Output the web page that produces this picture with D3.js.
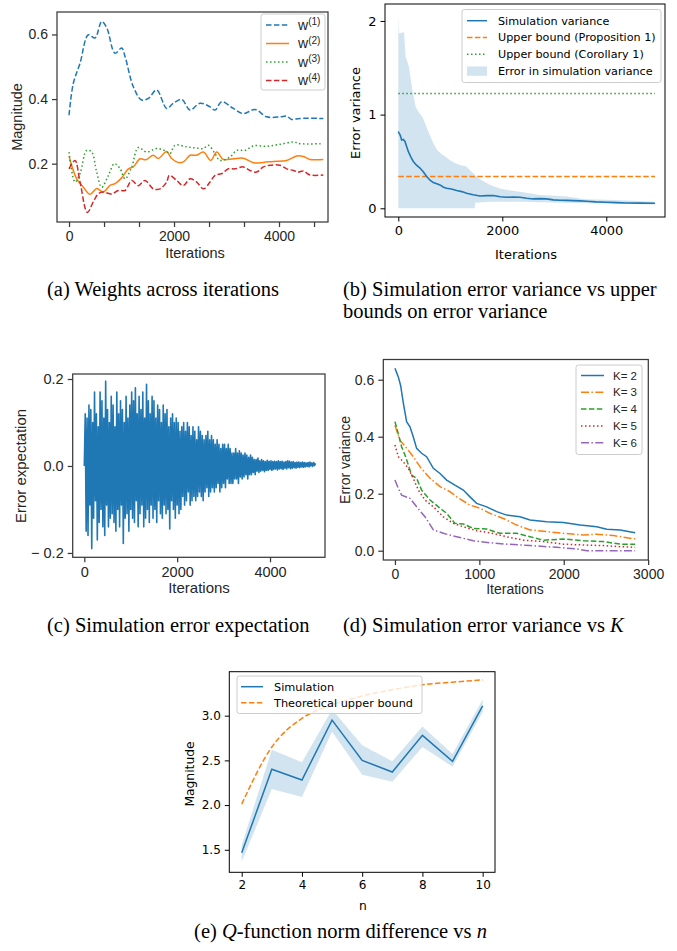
<!DOCTYPE html>
<html>
<head>
<meta charset="utf-8">
<script src="https://cdn.jsdelivr.net/npm/d3@7"></script>
<style>
body { margin: 0; background: #fff; }
svg { display: block; }
</style>
</head>
<body>
<svg id="fig" width="677" height="951"></svg>
<script>
// ---- (a) weights across iterations: [iteration, value]
const w1 = [[0,0.35],[82,0.449],[210,0.511],[368,0.599],[495,0.589],[622,0.64],[720,0.62],[876,0.542],[1003,0.558],[1067,0.532],[1225,0.438],[1384,0.397],[1511,0.402],[1670,0.428],[1860,0.371],[1987,0.387],[2146,0.399],[2305,0.366],[2495,0.387],[2686,0.376],[2781,0.366],[2908,0.392],[3130,0.371],[3321,0.355],[3543,0.368],[3765,0.345],[4019,0.345],[4146,0.347],[4241,0.337],[4400,0.34],[4844,0.34]];
const w2 = [[0,0.223],[146,0.153],[273,0.127],[400,0.105],[527,0.123],[654,0.112],[781,0.133],[876,0.138],[1003,0.156],[1130,0.184],[1225,0.19],[1352,0.215],[1460,0.212],[1606,0.226],[1701,0.216],[1860,0.238],[1955,0.216],[2114,0.203],[2200,0.208],[2305,0.226],[2430,0.226],[2559,0.236],[2699,0.21],[2813,0.236],[2940,0.213],[3130,0.215],[3320,0.217],[3511,0.203],[3700,0.204],[3892,0.207],[4146,0.21],[4337,0.224],[4464,0.222],[4590,0.213],[4844,0.213]];
const w3 = [[0,0.236],[114,0.143],[210,0.17],[336,0.241],[432,0.236],[527,0.174],[622,0.127],[749,0.163],[863,0.2],[971,0.185],[1067,0.153],[1194,0.19],[1320,0.25],[1479,0.236],[1670,0.247],[1830,0.24],[1924,0.231],[2019,0.257],[2241,0.252],[2400,0.249],[2559,0.247],[2654,0.257],[2781,0.231],[2876,0.21],[3067,0.221],[3194,0.241],[3352,0.241],[3511,0.255],[3765,0.254],[4019,0.26],[4273,0.267],[4400,0.262],[4844,0.262]];
const w4 = [[0,0.184],[114,0.21],[210,0.143],[349,0.049],[463,0.082],[559,0.107],[654,0.112],[813,0.106],[940,0.117],[1067,0.117],[1194,0.148],[1320,0.132],[1447,0.148],[1606,0.122],[1733,0.122],[1860,0.143],[1911,0.164],[2051,0.148],[2178,0.132],[2305,0.153],[2432,0.143],[2559,0.122],[2686,0.143],[2781,0.164],[2908,0.169],[3035,0.184],[3162,0.184],[3320,0.19],[3447,0.179],[3575,0.174],[3702,0.19],[3829,0.195],[4019,0.195],[4146,0.184],[4273,0.179],[4368,0.174],[4463,0.177],[4590,0.165],[4844,0.165]];
const aTicksX = [0, 667, 1333, 2000, 2667, 3333, 4000, 4667];
const aLabelsX = [0, 2000, 4000];
const aTicksY = [0.2, 0.4, 0.6];

// ---- (b) error variance vs bounds
const simVar = [[0,0.82],[16,0.8],[32,0.786],[48,0.76],[64,0.73],[96,0.735],[128,0.714],[160,0.66],[192,0.607],[240,0.55],[288,0.5],[350,0.46],[417,0.43],[480,0.39],[545,0.34],[610,0.3],[673,0.275],[740,0.262],[801,0.25],[870,0.225],[929,0.214],[1020,0.205],[1122,0.19],[1220,0.178],[1314,0.16],[1440,0.145],[1570,0.132],[1700,0.135],[1827,0.136],[1960,0.124],[2083,0.118],[2210,0.12],[2340,0.118],[2470,0.108],[2596,0.1],[2720,0.103],[2853,0.1],[2980,0.09],[3109,0.086],[3240,0.085],[3365,0.082],[3500,0.079],[3622,0.075],[3800,0.068],[4006,0.064],[4200,0.06],[4391,0.057],[4650,0.055],[4936,0.054]];
// [iteration, low, high]
const simBand = [[0,0,2.06],[12,0,1.87],[110,0,1.88],[140,0,1.62],[205,0,1.51],[270,0,1.26],[333,0,1.085],[400,0,1.02],[460,0,0.98],[520,0,0.9],[590,0,0.8],[670,0,0.7],[750,0,0.62],[830,0,0.58],[910,0,0.55],[1000,0,0.51],[1100,0,0.48],[1200,0,0.46],[1300,0,0.45],[1390,0,0.4],[1470,0,0.36],[1480,0.06,0.35],[1600,0.065,0.3],[1760,0.07,0.25],[1950,0.07,0.21],[2150,0.07,0.19],[2400,0.07,0.17],[2720,0.065,0.143],[3000,0.062,0.135],[3240,0.06,0.125],[3600,0.055,0.096],[4000,0.05,0.09],[4500,0.045,0.08],[4936,0.04,0.07]];
const boundIters = [0, 4936];
const boundProp = 0.34;
const boundCor = 1.225;
const bTicksX = [0, 2000, 4000];
const bTicksY = [0, 1, 2];

// ---- (c) error expectation, one value every 20 iterations
const cStep = 20;
const errExp = [
 0.0, 0.12, -0.15, 0.11, -0.16, 0.14, -0.09, 0.13, -0.19, 0.10,
 -0.12, 0.17, -0.08, 0.12, -0.17, 0.09, -0.13, 0.17, -0.10, 0.15,
 -0.14, 0.11, -0.16, 0.195, -0.09, 0.13, -0.14, 0.10, -0.12, 0.16,
 -0.11, 0.14, -0.13, 0.09, -0.15, 0.17, -0.10, 0.12, -0.14, 0.15,
 -0.09, 0.13, -0.178, 0.10, -0.12, 0.16, -0.11, 0.11, -0.15, 0.14,
 -0.10, 0.17, -0.12, 0.15, -0.13, 0.18, -0.08, 0.12, -0.14, 0.16,
 -0.11, 0.13, -0.09, 0.17, -0.14, 0.11, -0.12, 0.188, -0.10, 0.15,
 -0.13, 0.12, -0.09, 0.16, -0.12, 0.15, -0.10, 0.11, -0.13, 0.14,
 -0.08, 0.13, -0.11, 0.10, -0.12, 0.14, -0.09, 0.12, -0.11, 0.13,
 -0.10, 0.09, -0.145, 0.11, -0.08, 0.12, -0.10, 0.10, -0.12, 0.11,
 -0.09, 0.10, -0.11, 0.08, -0.10, 0.09, -0.07, 0.10, -0.09, 0.08,
 -0.08, 0.10, -0.06, 0.09, -0.09, 0.07, -0.08, 0.09, -0.07, 0.08,
 -0.08, 0.06, -0.07, 0.09, -0.06, 0.08, -0.07, 0.07, -0.08, 0.06,
 -0.06, 0.07, -0.05, 0.08, -0.07, 0.06, -0.06, 0.07, -0.05, 0.06,
 -0.06, 0.05, -0.05, 0.06, -0.04, 0.05, -0.06, 0.04, -0.05, 0.05,
 -0.04, 0.05, -0.05, 0.04, -0.03, 0.05, -0.04, 0.04, -0.04, 0.03,
 -0.04, 0.03, -0.03, 0.04, -0.03, 0.03, -0.04, 0.035, -0.025, 0.03,
 -0.03, 0.025, -0.025, 0.03, -0.02, 0.025, -0.03, 0.02, -0.02, 0.025,
 -0.02, 0.02, -0.015, 0.015, -0.02, 0.015, -0.012, 0.018, -0.015, 0.012,
 -0.012, 0.015, -0.01, 0.012, -0.013, 0.01, -0.01, 0.013, -0.01, 0.011,
 -0.008, 0.012, -0.01, 0.01, -0.008, 0.011, -0.007, 0.01, -0.009, 0.012,
 -0.007, 0.01, -0.006, 0.011, -0.008, 0.009, -0.005, 0.01, -0.007, 0.012,
 -0.004, 0.011, -0.006, 0.009, -0.005, 0.01, -0.004, 0.008, -0.005, 0.009,
 -0.003, 0.009, -0.004, 0.008, -0.002, 0.009, -0.003, 0.008, -0.002, 0.007,
 -0.001, 0.008, -0.002, 0.009, 0.0, 0.007, -0.001, 0.008, 0.001, 0.006
];
const cTicksX = [0, 2000, 4000];
const cTicksY = [-0.2, 0, 0.2];
const cLabelsY = ['\u2212 0.2', '0.0', '0.2'];

// ---- (d) error variance vs K
const kNames = ['K= 2', 'K= 3', 'K= 4', 'K= 5', 'K= 6'];
const k2 = [[0,0.64],[20,0.625],[40,0.61],[67,0.58],[100,0.517],[138,0.453],[178,0.435],[217,0.4],[257,0.359],[316,0.342],[375,0.33],[455,0.289],[534,0.271],[613,0.248],[711,0.23],[810,0.213],[889,0.189],[968,0.166],[1087,0.154],[1206,0.137],[1324,0.125],[1482,0.119],[1601,0.108],[1798,0.102],[1996,0.099],[2194,0.09],[2391,0.084],[2510,0.075],[2668,0.073],[2846,0.063]];
const k3 = [[0,0.44],[59,0.388],[138,0.36],[217,0.33],[296,0.295],[415,0.254],[534,0.225],[652,0.207],[731,0.189],[889,0.16],[1008,0.149],[1126,0.131],[1285,0.113],[1443,0.09],[1601,0.073],[1798,0.067],[1996,0.061],[2233,0.055],[2391,0.058],[2589,0.053],[2846,0.041]];
const k4 = [[0,0.453],[40,0.41],[79,0.365],[119,0.336],[198,0.265],[257,0.254],[316,0.213],[415,0.178],[534,0.149],[613,0.131],[711,0.096],[810,0.094],[929,0.078],[1087,0.076],[1245,0.061],[1443,0.061],[1601,0.049],[1759,0.037],[1996,0.041],[2233,0.035],[2470,0.032],[2668,0.023],[2846,0.023]];
const k5 = [[0,0.371],[40,0.33],[99,0.312],[158,0.289],[217,0.254],[277,0.213],[356,0.178],[455,0.154],[573,0.119],[692,0.096],[810,0.084],[968,0.07],[1126,0.063],[1324,0.049],[1522,0.037],[1759,0.032],[1996,0.023],[2233,0.02],[2470,0.018],[2668,0.014],[2846,0.012]];
const k6 = [[0,0.248],[40,0.219],[79,0.195],[178,0.184],[257,0.154],[356,0.119],[455,0.073],[573,0.061],[731,0.049],[929,0.035],[1126,0.028],[1324,0.023],[1601,0.018],[1917,0.012],[2154,0.006],[2273,0.0],[2549,0.0],[2846,0.0]];
const dTicksX = [0, 1000, 2000, 3000];
const dTicksY = [0, 0.2, 0.4, 0.6];

// ---- (e) Q-function norm difference vs n
const nVals = [2, 3, 4, 5, 6, 7, 8, 9, 10];
const qSim = [1.466, 2.40, 2.28, 2.95, 2.50, 2.37, 2.78, 2.49, 3.11];
const qLow = [1.366, 2.18, 2.09, 2.82, 2.34, 2.26, 2.65, 2.43, 3.04];
const qHigh = [1.55, 2.62, 2.48, 3.07, 2.67, 2.49, 2.88, 2.57, 3.18];
const qBound = [2.01, 2.65, 2.97, 3.12, 3.22, 3.29, 3.345, 3.375, 3.40];
const eTicksX = [2, 4, 6, 8, 10];
const eTicksY = [1.5, 2.0, 2.5, 3.0];

const C = { blue: '#1f77b4', orange: '#ff7f0e', green: '#2ca02c', red: '#d62728', purple: '#9467bd' };
const ARIAL = '"Liberation Sans", Arial, sans-serif';
const DEJA = '"DejaVu Sans", sans-serif';
const SERIF = '"Liberation Serif", "Times New Roman", serif';

const svg = d3.select('#fig');

function panel(o) {
	let x = d3.scaleLinear().domain(o.xd).range([o.l, o.r]);
	let y = d3.scaleLinear().domain(o.yd).range([o.b, o.t]);
	let g = svg.append('g');
	let data = g.append('g');
	let xAxis = d3.axisBottom(x).tickValues(o.xt).tickFormat(o.xf || (d => d)).tickSize(o.ts).tickPadding(o.tp);
	let yAxis = d3.axisLeft(y).tickValues(o.yt).tickFormat(o.yf).tickSize(o.ts).tickPadding(o.tp);
	let gx = g.append('g').attr('transform', `translate(0,${o.b})`).call(xAxis);
	let gy = g.append('g').attr('transform', `translate(${o.l},0)`).call(yAxis);
	[gx, gy].forEach(a => {
		a.select('.domain').remove();
		a.selectAll('line').attr('stroke', o.frame).attr('stroke-width', o.fw);
		a.selectAll('text').attr('fill', o.ink)
			.style('font-size', o.fs + 'px').style('font-family', o.font);
	});
	g.append('rect')
		.attr('x', o.l).attr('y', o.t).attr('width', o.r - o.l).attr('height', o.b - o.t)
		.attr('fill', 'none').attr('stroke', o.frame).attr('stroke-width', o.fw);
	g.append('text')
		.attr('x', o.xl[0]).attr('y', o.xl[1]).attr('text-anchor', 'middle').attr('dy', '0.35em')
		.attr('fill', o.ink).style('font-family', o.font).style('font-size', o.ls + 'px')
		.text(o.xlabel);
	g.append('text')
		.attr('transform', `translate(${o.yl[0]},${o.yl[1]}) rotate(-90)`)
		.attr('text-anchor', 'middle').attr('dy', '0.35em')
		.attr('fill', o.ink).style('font-family', o.font).style('font-size', o.ls + 'px')
		.text(o.ylabel);
	return { g, data, x, y };
}

function legend(g, o) {
	let lg = g.append('g').style('font-family', o.font).style('font-size', o.fs + 'px');
	lg.append('rect')
		.attr('x', o.x).attr('y', o.y).attr('width', o.w).attr('height', o.h).attr('rx', 2.5)
		.attr('fill', 'white').attr('fill-opacity', 0.8).attr('stroke', '#cccccc').attr('stroke-width', 1);
	o.items.forEach((it, i) => {
		let cy = o.y0 + i * o.dy;
		if (it.patch) {
			lg.append('rect').attr('x', o.h0).attr('y', cy - 4.7).attr('width', o.h1 - o.h0).attr('height', 9.4)
				.attr('fill', it.color).attr('fill-opacity', 0.2);
		} else {
			lg.append('line').attr('x1', o.h0).attr('x2', o.h1).attr('y1', cy).attr('y2', cy)
				.attr('stroke', it.color).attr('stroke-width', 1.5).attr('stroke-dasharray', it.dash || null);
		}
		let t = lg.append('text').attr('x', o.tx).attr('y', cy).attr('dy', '0.35em').attr('fill', o.ink);
		t.append('tspan').text(it.label);
		if (it.sup) t.append('tspan').attr('dy', '-0.45em').style('font-size', (o.fs * 0.72) + 'px').text(it.sup);
	});
}

const DASH = '5.5,2.4';
const DOT = '1.5,2.5';
const DASHDOT = '8,2.4,1.5,2.4';

// ===== (a)
let pa = panel({
	l: 57, r: 328, t: 12, b: 222, xd: [-229, 4933], yd: [0.0194, 0.6696],
	xt: aTicksX, xf: d => aLabelsX.includes(d) ? d : '', yt: aTicksY, yf: d3.format('.1f'),
	ts: 5, tp: 4, fs: 14, ls: 14.5, font: ARIAL, ink: '#262626', frame: '#3a3a3a', fw: 1.25,
	xlabel: 'Iterations', xl: [195, 253], ylabel: 'Magnitude', yl: [17, 117]
});
const aSeries = [
	{ d: w1, c: C.blue, dash: DASH, sup: '(1)' },
	{ d: w2, c: C.orange, dash: null, sup: '(2)' },
	{ d: w3, c: C.green, dash: DOT, sup: '(3)' },
	{ d: w4, c: C.red, dash: DASH, sup: '(4)' }
];
let aLine = d3.line().x(d => pa.x(d[0])).y(d => pa.y(d[1])).curve(d3.curveCatmullRom.alpha(0.5));
aSeries.forEach(s => {
	pa.data.append('path').attr('d', aLine(s.d)).attr('fill', 'none')
		.attr('stroke', s.c).attr('stroke-width', 1.5).attr('stroke-dasharray', s.dash);
});
legend(pa.g, {
	x: 261, y: 14, w: 64, h: 76, y0: 25, dy: 18.5, h0: 266, h1: 289, tx: 298,
	font: ARIAL, fs: 14, ink: '#262626',
	items: aSeries.map(s => ({ label: 'w', sup: s.sup, color: s.c, dash: s.dash }))
});

// ===== (b)
let pb = panel({
	l: 385, r: 665, t: 4, b: 217, xd: [-256, 5129], yd: [-0.093, 2.181],
	xt: bTicksX, yt: bTicksY, yf: d => d,
	ts: 4.5, tp: 4, fs: 13, ls: 13, font: DEJA, ink: '#000', frame: '#000', fw: 1,
	xlabel: 'Iterations', xl: [526, 254], ylabel: 'Error variance', yl: [355, 113]
});
pb.data.append('path')
	.attr('d', d3.area().x(d => pb.x(d[0])).y0(d => pb.y(d[1])).y1(d => pb.y(d[2]))(simBand))
	.attr('fill', C.blue).attr('fill-opacity', 0.2);
pb.data.append('path')
	.attr('d', d3.line().x(d => pb.x(d[0])).y(d => pb.y(boundCor))(boundIters.map(i => [i])))
	.attr('stroke', C.green).attr('stroke-width', 1.5).attr('stroke-dasharray', DOT).attr('fill', 'none');
pb.data.append('path')
	.attr('d', d3.line().x(d => pb.x(d[0])).y(d => pb.y(boundProp))(boundIters.map(i => [i])))
	.attr('stroke', C.orange).attr('stroke-width', 1.5).attr('stroke-dasharray', DASH).attr('fill', 'none');
pb.data.append('path')
	.attr('d', d3.line().x(d => pb.x(d[0])).y(d => pb.y(d[1]))(simVar))
	.attr('stroke', C.blue).attr('stroke-width', 1.6).attr('fill', 'none');
legend(pb.g, {
	x: 462, y: 9.5, w: 199, h: 73, y0: 20.7, dy: 16.8, h0: 467, h1: 487, tx: 498,
	font: DEJA, fs: 11.2, ink: '#000',
	items: [
		{ label: 'Simulation variance', color: C.blue },
		{ label: 'Upper bound (Proposition 1)', color: C.orange, dash: DASH },
		{ label: 'Upper bound (Corollary 1)', color: C.green, dash: DOT },
		{ label: 'Error in simulation variance', color: C.blue, patch: true }
	]
});

// ===== (c)
let pc = panel({
	l: 72.7, r: 325, t: 374, b: 557.3, xd: [-250, 5184], yd: [-0.21, 0.2115],
	xt: cTicksX, yt: cTicksY, yf: (d, i) => cLabelsY[i],
	ts: 5, tp: 4, fs: 14.5, ls: 15, font: ARIAL, ink: '#262626', frame: '#3a3a3a', fw: 1.25,
	xlabel: 'Iterations', xl: [199, 588], ylabel: 'Error expectation', yl: [21, 466]
});
pc.data.append('path')
	.attr('d', d3.line().x((d, i) => pc.x(i * cStep)).y(d => pc.y(d))(errExp))
	.attr('stroke', C.blue).attr('stroke-width', 1.6).attr('fill', 'none').attr('stroke-linejoin', 'round');

// ===== (d)
let pd = panel({
	l: 383.3, r: 648.3, t: 359.5, b: 560, xd: [-138, 3002], yd: [-0.0326, 0.671],
	xt: dTicksX, yt: dTicksY, yf: d3.format('.1f'),
	ts: 5, tp: 4, fs: 14, ls: 14, font: ARIAL, ink: '#262626', frame: '#3a3a3a', fw: 1.25,
	xlabel: 'Iterations', xl: [515, 589], ylabel: 'Error variance', yl: [345, 460]
});
const dSeries = [
	{ d: k2, c: C.blue, dash: null },
	{ d: k3, c: C.orange, dash: DASHDOT },
	{ d: k4, c: C.green, dash: DASH },
	{ d: k5, c: C.red, dash: DOT },
	{ d: k6, c: C.purple, dash: DASHDOT }
];
let dLine = d3.line().x(d => pd.x(d[0])).y(d => pd.y(d[1]));
dSeries.forEach(s => {
	pd.data.append('path').attr('d', dLine(s.d)).attr('fill', 'none')
		.attr('stroke', s.c).attr('stroke-width', 1.5).attr('stroke-dasharray', s.dash);
});
legend(pd.g, {
	x: 576, y: 365, w: 66, h: 89.5, y0: 375.5, dy: 16.8, h0: 581, h1: 604, tx: 613,
	font: ARIAL, fs: 11.5, ink: '#262626',
	items: dSeries.map((s, i) => ({ label: kNames[i], color: s.c, dash: s.dash }))
});

// ===== (e)
let pe = panel({
	l: 229.3, r: 495, t: 671.7, b: 872.3, xd: [1.588, 10.41], yd: [1.248, 3.492],
	xt: eTicksX, yt: eTicksY, yf: d3.format('.1f'),
	ts: 4.5, tp: 4, fs: 12, ls: 12.3, font: DEJA, ink: '#000', frame: '#000', fw: 1,
	xlabel: 'n', xl: [363, 906], ylabel: 'Magnitude', yl: [190, 774]
});
pe.data.append('path')
	.attr('d', d3.area().x((d, i) => pe.x(d)).y0((d, i) => pe.y(qLow[i])).y1((d, i) => pe.y(qHigh[i]))(nVals))
	.attr('fill', C.blue).attr('fill-opacity', 0.2);
pe.data.append('path')
	.attr('d', d3.line().x(d => pe.x(d)).y((d, i) => pe.y(qSim[i]))(nVals))
	.attr('stroke', C.blue).attr('stroke-width', 1.5).attr('fill', 'none');
pe.data.append('path')
	.attr('d', d3.line().x(d => pe.x(d)).y((d, i) => pe.y(qBound[i])).curve(d3.curveMonotoneX)(nVals))
	.attr('stroke', C.orange).attr('stroke-width', 1.5).attr('stroke-dasharray', DASH).attr('fill', 'none');
legend(pe.g, {
	x: 237, y: 676, w: 185, h: 37.5, y0: 686.7, dy: 16, h0: 241, h1: 263, tx: 274,
	font: DEJA, fs: 11.3, ink: '#000',
	items: [
		{ label: 'Simulation', color: C.blue },
		{ label: 'Theoretical upper bound', color: C.orange, dash: DASH }
	]
});

// ===== captions
function caption(x, y, parts, anchor) {
	let t = svg.append('text').attr('x', x).attr('y', y).attr('text-anchor', anchor || 'start')
		.style('font-family', SERIF).style('font-size', '20.5px').attr('fill', '#000');
	parts.forEach(p => {
		let s = t.append('tspan').text(p.t);
		if (p.i) s.style('font-style', 'italic');
	});
}
caption(47, 296, [{ t: '(a) Weights across iterations' }]);
caption(343, 296, [{ t: '(b) Simulation error variance vs upper' }]);
caption(343, 318, [{ t: 'bounds on error variance' }]);
caption(47, 632, [{ t: '(c) Simulation error expectation' }]);
caption(343, 632, [{ t: '(d) Simulation error variance vs ' }, { t: 'K', i: true }]);
caption(340.5, 938, [{ t: '(e) ' }, { t: 'Q', i: true }, { t: '-function norm difference vs ' }, { t: 'n', i: true }], 'middle');
</script>
</body>
</html>
